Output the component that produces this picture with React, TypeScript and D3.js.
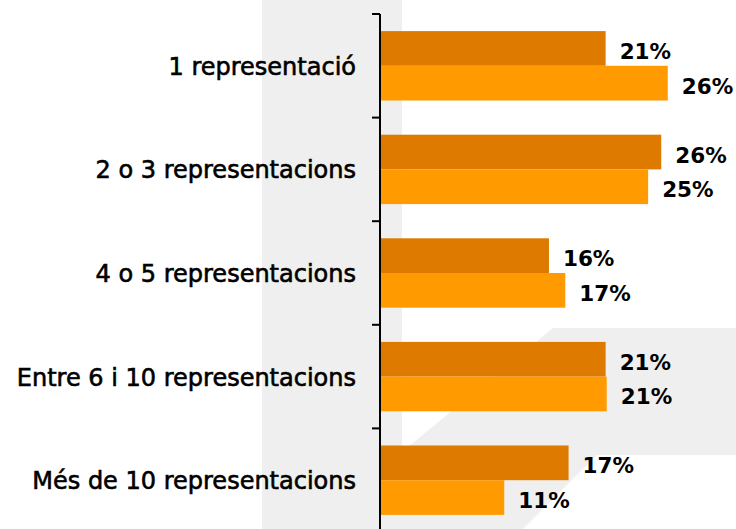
import React, { useEffect } from 'react';
import * as d3 from 'd3';

const categories = [
  '1 representació',
  '2 o 3 representacions',
  '4 o 5 representacions',
  'Entre 6 i 10 representacions',
  'Més de 10 representacions',
];
const seriesKeys = ['a', 'b'];
const seriesA = [20.7, 25.8, 15.5, 20.7, 17.3];
const seriesB = [26.4, 24.6, 17.0, 20.8, 11.4];
const seriesColors = ['#DF7A00', '#FF9A00'];

const W = 736;
const H = 529;
const FONT = '"DejaVu Sans", Verdana, sans-serif';

export default function App() {
  useEffect(() => {
    document.body.style.margin = '0';
  }, []);

  const axisX = 380;
  const top = 14;
  const step = 103.6;
  const y = d3
    .scaleBand<string>()
    .domain(categories)
    .range([top, top + step * categories.length])
    .paddingInner(0.33)
    .paddingOuter(0.165);
  const sub = d3.scaleBand<string>().domain(seriesKeys).range([0, y.bandwidth()]);
  const x = d3.scaleLinear().domain([0, 30]).range([axisX, axisX + 327]);
  const fmt = (v: number) => `${Math.round(v)}%`;
  const series = [seriesA, seriesB];

  const ticks = d3.range(categories.length + 1).map((i) => top + i * step);

  return (
    <svg
      width={W}
      height={H}
      style={{ position: 'absolute', left: 0, top: 0, background: '#fff' }}
      fontFamily={FONT}
    >
      <rect x={0} y={0} width={W} height={H} fill="#ffffff" />
      {/* watermark shapes */}
      <rect x={262} y={0} width={140} height={H} fill="#efefef" />
      <path
        d="M553,328 L736,328 L736,455 L597,455 L523,529 L308,529 Z"
        fill="#efefef"
      />
      {/* bars */}
      {categories.map((c, i) => (
        <g key={c}>
          {series.map((s, k) => {
            const by = (y(c) as number) + (sub(seriesKeys[k]) as number);
            const bh = sub.bandwidth();
            return (
              <g key={k}>
                <rect
                  x={x(0)}
                  y={by}
                  width={x(s[i]) - x(0)}
                  height={bh}
                  fill={seriesColors[k]}
                />
                <text
                  x={x(s[i]) + 14}
                  y={by + bh / 2 + 3}
                  dominantBaseline="central"
                  fontSize={21.5}
                  fontWeight="bold"
                  fill="#000"
                >
                  {fmt(s[i])}
                </text>
              </g>
            );
          })}
          <text
            x={356}
            y={(y(c) as number) + y.bandwidth() / 2 + 1}
            textAnchor="end"
            dominantBaseline="central"
            fontSize={24}
            fill="#000"
            stroke="#000"
            strokeWidth={0.6}
          >
            {c}
          </text>
        </g>
      ))}
      {/* axis */}
      <line x1={axisX} x2={axisX} y1={top} y2={H} stroke="#000" strokeWidth={2} />
      {ticks.map((t, i) => (
        <line key={i} x1={372} x2={axisX} y1={t} y2={t} stroke="#000" strokeWidth={2} />
      ))}
    </svg>
  );
}
